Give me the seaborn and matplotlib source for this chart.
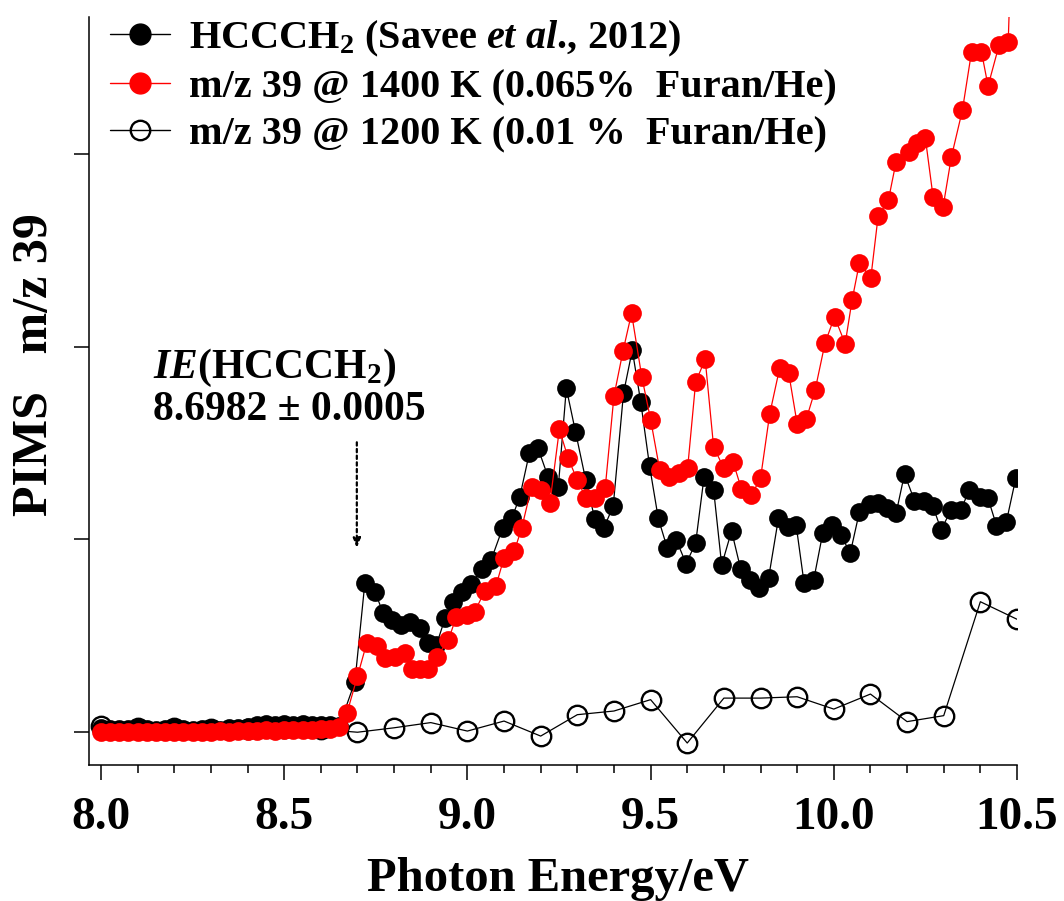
import matplotlib
matplotlib.use("Agg")
import matplotlib.pyplot as plt
from matplotlib.lines import Line2D
from matplotlib.ticker import MultipleLocator, FormatStrFormatter
import seaborn as sns

# ---------------------------------------------------------------------------
# Data (photon energy in eV, PIMS signal at m/z 39 in arbitrary units)
# ---------------------------------------------------------------------------
# HCCCH2 reference spectrum (Savee et al., 2012)
savee_energy = [8.000, 8.025, 8.050, 8.075, 8.100, 8.125, 8.150, 8.175, 8.200,
                8.225, 8.250, 8.275, 8.300, 8.325, 8.350, 8.375, 8.400, 8.425,
                8.450, 8.475, 8.500, 8.525, 8.550, 8.575, 8.600, 8.625, 8.650,
                8.693, 8.720, 8.748, 8.770, 8.793, 8.820, 8.843, 8.870, 8.893,
                8.915, 8.939, 8.962, 8.985, 9.010, 9.040, 9.065, 9.096, 9.121,
                9.143, 9.169, 9.193, 9.220, 9.248, 9.270, 9.295, 9.323, 9.348,
                9.372, 9.398, 9.426, 9.450, 9.473, 9.497, 9.521, 9.545, 9.570,
                9.597, 9.623, 9.646, 9.672, 9.694, 9.721, 9.746, 9.771, 9.797,
                9.822, 9.849, 9.874, 9.897, 9.919, 9.945, 9.970, 9.995, 10.019,
                10.045, 10.070, 10.098, 10.120, 10.145, 10.170, 10.193, 10.220,
                10.247, 10.270, 10.293, 10.320, 10.347, 10.370, 10.398, 10.421,
                10.444, 10.471, 10.497]
savee_signal = [0.020, 0.015, 0.018, 0.015, 0.020, 0.015, 0.012, 0.015, 0.020,
                0.015, 0.012, 0.018, 0.015, 0.012, 0.020, 0.020, 0.025, 0.035,
                0.045, 0.035, 0.045, 0.040, 0.045, 0.035, 0.040, 0.035, 0.030,
                0.262, 0.772, 0.729, 0.617, 0.582, 0.556, 0.573, 0.539, 0.461,
                0.450, 0.591, 0.677, 0.725, 0.770, 0.845, 0.895, 1.058, 1.109,
                1.221, 1.447, 1.472, 1.325, 1.270, 1.784, 1.559, 1.308, 1.104,
                1.058, 1.173, 1.758, 1.982, 1.714, 1.383, 1.109, 0.958, 0.998,
                0.874, 0.982, 1.325, 1.258, 0.867, 1.044, 0.845, 0.789, 0.746,
                0.800, 1.110, 1.066, 1.077, 0.772, 0.789, 1.034, 1.075, 1.023,
                0.930, 1.144, 1.182, 1.190, 1.164, 1.135, 1.340, 1.202, 1.202,
                1.175, 1.049, 1.154, 1.154, 1.258, 1.221, 1.213, 1.072, 1.092,
                1.320]

# m/z 39 at 1400 K (0.065% furan in He)
hot_energy = [8.000, 8.025, 8.050, 8.075, 8.100, 8.125, 8.150, 8.175, 8.200,
              8.225, 8.250, 8.275, 8.300, 8.325, 8.350, 8.375, 8.400, 8.425,
              8.450, 8.475, 8.500, 8.525, 8.550, 8.575, 8.600, 8.625, 8.650,
              8.671, 8.700, 8.725, 8.752, 8.775, 8.802, 8.830, 8.848, 8.870,
              8.893, 8.916, 8.948, 8.970, 8.998, 9.020, 9.048, 9.078, 9.100,
              9.128, 9.148, 9.175, 9.202, 9.225, 9.251, 9.275, 9.300, 9.324,
              9.348, 9.376, 9.400, 9.425, 9.448, 9.476, 9.500, 9.525, 9.550,
              9.577, 9.601, 9.623, 9.649, 9.672, 9.700, 9.725, 9.748, 9.775,
              9.800, 9.825, 9.852, 9.877, 9.900, 9.925, 9.949, 9.976, 10.002,
              10.031, 10.050, 10.070, 10.101, 10.121, 10.149, 10.170, 10.204,
              10.226, 10.250, 10.271, 10.298, 10.321, 10.351, 10.376, 10.403,
              10.421, 10.451, 10.476, 10.500]
hot_signal = [0.000, 0.000, 0.002, 0.000, 0.003, 0.000, 0.002, 0.000, 0.000,
              0.003, 0.002, 0.000, 0.003, 0.005, 0.003, 0.005, 0.008, 0.005,
              0.010, 0.008, 0.012, 0.010, 0.012, 0.010, 0.015, 0.015, 0.025,
              0.098, 0.290, 0.461, 0.447, 0.383, 0.392, 0.410, 0.330, 0.330,
              0.330, 0.390, 0.478, 0.600, 0.608, 0.625, 0.735, 0.760, 0.905,
              0.940, 1.057, 1.273, 1.256, 1.187, 1.571, 1.421, 1.308, 1.213,
              1.213, 1.265, 1.744, 1.980, 2.173, 1.843, 1.622, 1.360, 1.323,
              1.343, 1.369, 1.817, 1.934, 1.480, 1.369, 1.403, 1.261, 1.230,
              1.317, 1.650, 1.887, 1.862, 1.600, 1.625, 1.775, 2.018, 2.155,
              2.015, 2.243, 2.435, 2.356, 2.677, 2.760, 2.959, 3.011, 3.054,
              3.080, 2.777, 2.722, 2.985, 3.227, 3.530, 3.530, 3.352, 3.564,
              3.580, 5.000]

# m/z 39 at 1200 K (0.01% furan in He)
cool_energy = [8.0, 8.1, 8.2, 8.3, 8.4, 8.5, 8.6, 8.7, 8.8, 8.9, 9.0, 9.1, 9.2,
               9.3, 9.4, 9.5, 9.6, 9.7, 9.8, 9.9, 10.0, 10.1, 10.2, 10.3, 10.4,
               10.5]
cool_signal = [0.030, 0.020, 0.020, 0.015, 0.015, 0.020, 0.015, 0.000, 0.023,
               0.050, 0.006, 0.058, -0.020, 0.091, 0.110, 0.169, -0.056, 0.177,
               0.177, 0.184, 0.120, 0.198, 0.055, 0.086, 0.677, 0.586]

series_labels = [
    r"HCCCH$_2$ (Savee $\mathit{et\ al}$., 2012)",
    "m/z 39 @ 1400 K (0.065%  Furan/He)",
    "m/z 39 @ 1200 K (0.01 %  Furan/He)",
]

ie_value = 8.6982
ie_error = 0.0005
x_ticks = [8.0, 8.5, 9.0, 9.5, 10.0, 10.5]
y_ticks = [0, 1, 2, 3]

# ---------------------------------------------------------------------------
# Styling
# ---------------------------------------------------------------------------
sns.set_style("ticks")
plt.rcParams["font.family"] = ["Liberation Serif", "DejaVu Serif"]
plt.rcParams["font.weight"] = "bold"
plt.rcParams["mathtext.fontset"] = "custom"
plt.rcParams["mathtext.rm"] = "Liberation Serif:bold"
plt.rcParams["mathtext.it"] = "Liberation Serif:italic:bold"
plt.rcParams["mathtext.bf"] = "Liberation Serif:bold"
plt.rcParams["axes.linewidth"] = 1.1
for key in ("text.color", "axes.labelcolor", "xtick.color", "ytick.color",
            "axes.edgecolor", "xtick.labelcolor", "ytick.labelcolor"):
    plt.rcParams[key] = "black"

W, H = 1064, 901
fig = plt.figure(figsize=(W / 100, H / 100), dpi=100)
left_px, right_px, top_px, bottom_px = 88.8, 1017, 17, 765
ax = fig.add_axes([left_px / W, 1 - bottom_px / H,
                   (right_px - left_px) / W, (bottom_px - top_px) / H])

RED = "#ff0000"
MS = 13.5

sns.lineplot(x=cool_energy, y=cool_signal, ax=ax, color="black", lw=0.9,
             marker="o", markersize=14, markerfacecolor="none",
             markeredgecolor="black", markeredgewidth=1.7, zorder=2)
sns.lineplot(x=savee_energy, y=savee_signal, ax=ax, color="black", lw=0.9,
             marker="o", markersize=MS, markerfacecolor="black",
             markeredgecolor="black", markeredgewidth=0, zorder=3)
sns.lineplot(x=hot_energy, y=hot_signal, ax=ax, color=RED, lw=0.9,
             marker="o", markersize=MS, markerfacecolor=RED,
             markeredgecolor=RED, markeredgewidth=0, zorder=4)

ax.set_xlim(8.0 - (101 - left_px) / 366.4, 10.5)
ax.set_ylim(-0.17, 3.71)

ax.xaxis.set_major_locator(MultipleLocator(0.5))
ax.xaxis.set_minor_locator(MultipleLocator(0.1))
ax.xaxis.set_major_formatter(FormatStrFormatter("%.1f"))
ax.set_xticks(x_ticks)
ax.set_yticks(y_ticks)
ax.set_yticklabels([])
ax.tick_params(axis="both", which="major", direction="out", length=11,
               width=1.1, color="black")
ax.tick_params(axis="x", which="minor", direction="out", length=5.5,
               width=1.1, color="black")
ax.tick_params(axis="x", labelsize=34, pad=12, labelcolor="black")
for lab in ax.get_xticklabels():
    lab.set_fontweight("bold")
sns.despine(ax=ax)
for sp in ("left", "bottom"):
    ax.spines[sp].set_color("black")

ax.set_xlabel("Photon Energy/eV", fontsize=35, fontweight="bold",
              color="black")
ax.xaxis.set_label_coords((558 - left_px) / (right_px - left_px),
                          (bottom_px - 891) / (bottom_px - top_px))
ax.xaxis.label.set_va("baseline")
ax.set_ylabel("PIMS   m/z 39", fontsize=36, fontweight="bold", va="center",
              color="black")
ax.yaxis.set_label_coords((35 - left_px) / (right_px - left_px),
                          (bottom_px - 365) / (bottom_px - top_px))

# Ionisation energy marker
ax.annotate("", xy=(ie_value, 0.956), xytext=(ie_value, 1.504),
            arrowprops=dict(arrowstyle="-|>,head_length=0.55,head_width=0.22",
                            linestyle=(0, (1.5, 1.5)), lw=1.6, color="black",
                            shrinkA=0, shrinkB=0))
ax.text(8.142, 1.888, r"$\mathit{IE}$(HCCCH$_2$)", fontsize=30,
        fontweight="bold", ha="left", va="center", color="black")
ax.text(8.142, 1.672, f"{ie_value:.4f} \u00b1 {ie_error:.4f}", fontsize=30,
        fontweight="bold", ha="left", va="center", color="black")

# Legend
handles = [
    Line2D([], [], color="black", lw=1.0, marker="o", markersize=15,
           markerfacecolor="black", markeredgecolor="black"),
    Line2D([], [], color=RED, lw=1.0, marker="o", markersize=15,
           markerfacecolor=RED, markeredgecolor=RED),
    Line2D([], [], color="black", lw=1.0, marker="o", markersize=14,
           markerfacecolor="none", markeredgecolor="black",
           markeredgewidth=1.7),
]
leg = fig.legend(handles, series_labels, loc="upper left",
                 bbox_to_anchor=(110 / W, 1 - 19 / H), frameon=False,
                 prop={"weight": "bold", "size": 29},
                 handlelength=1.5, handletextpad=0.45, labelspacing=0.24,
                 borderpad=0, borderaxespad=0)
for t in leg.get_texts():
    t.set_color("black")

fig.savefig("out.png", dpi=100)
